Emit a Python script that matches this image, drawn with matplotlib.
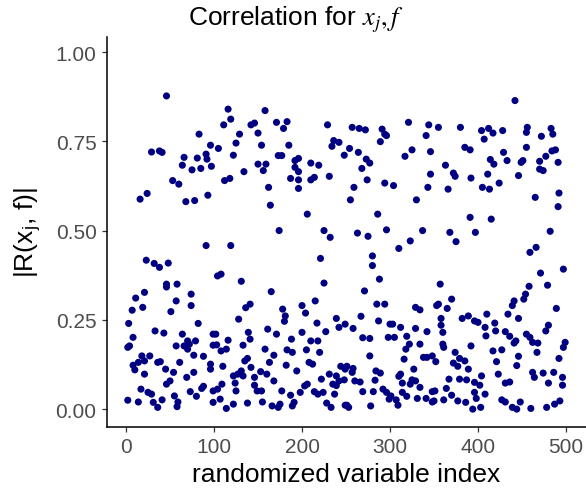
import numpy as np
import matplotlib
matplotlib.use('Agg')
import matplotlib.pyplot as plt

plt.rcParams['font.family'] = ['Liberation Sans', 'DejaVu Sans']
plt.rcParams['mathtext.fontset'] = 'stix'

# |R(x_j, f)| per randomized variable index, grouped by index range
idx_a = [46, 29, 38, 41, 16, 24, 23, 32, 38, 48, 46, 46, 21, 11, 19, 7, 3, 8, 33, 43,
         2, 4, 18, 27, 21, 8, 14, 10, 21, 36, 39, 46, 17, 25, 29, 2, 14, 31, 36, 41]
r_a = [0.877, 0.720, 0.723, 0.719, 0.588, 0.604, 0.417, 0.408, 0.397, 0.409, 0.350, 0.342,
       0.327, 0.311, 0.285, 0.277, 0.240, 0.201, 0.219, 0.213, 0.173, 0.177, 0.149, 0.149,
       0.135, 0.123, 0.131, 0.110, 0.098, 0.131, 0.133, 0.070, 0.056, 0.047, 0.042, 0.025,
       0.020, 0.019, 0.005, 0.026]

idx_b = [83, 96, 66, 64, 81, 91, 92, 75, 85, 97, 53, 60, 68, 78, 93, 91, 58, 74, 57, 74,
         51, 82, 64, 57, 70, 72, 79, 66, 70, 77, 88, 99, 99, 61, 45, 54, 96, 96, 77, 69,
         50, 88, 86, 73, 99, 55, 80, 59, 58, 99]
r_b = [0.770, 0.739, 0.705, 0.683, 0.703, 0.714, 0.700, 0.670, 0.674, 0.680, 0.640, 0.630,
       0.581, 0.584, 0.599, 0.458, 0.350, 0.322, 0.303, 0.290, 0.273, 0.240, 0.210, 0.177,
       0.191, 0.182, 0.191, 0.177, 0.168, 0.151, 0.148, 0.210, 0.179, 0.131, 0.112, 0.103,
       0.126, 0.112, 0.103, 0.089, 0.079, 0.064, 0.058, 0.049, 0.051, 0.037, 0.036, 0.020,
       0.007, 0.019]

idx_c = [116, 119, 111, 142, 146, 150, 129, 105, 125, 122, 150, 134, 112, 118, 119, 104,
         108, 131, 141, 136, 128, 102, 139, 116, 141, 103, 133, 108, 114, 138, 135, 110,
         142, 131, 127, 122, 133, 146, 124, 109, 146, 149, 125, 104, 107, 122, 114, 138]
r_c = [0.840, 0.812, 0.796, 0.796, 0.801, 0.773, 0.770, 0.730, 0.745, 0.711, 0.686, 0.665,
       0.640, 0.646, 0.458, 0.373, 0.378, 0.358, 0.294, 0.284, 0.252, 0.210, 0.215, 0.193,
       0.196, 0.180, 0.179, 0.163, 0.168, 0.142, 0.135, 0.120, 0.117, 0.107, 0.098, 0.093,
       0.093, 0.089, 0.073, 0.070, 0.067, 0.051, 0.051, 0.056, 0.028, 0.014, 0.002, 0.017]

idx_d = [158, 171, 183, 179, 154, 185, 173, 177, 159, 156, 192, 196, 192, 196, 187, 196,
         196, 162, 164, 174, 165, 178, 181, 180, 200, 161, 171, 188, 200, 158, 168, 183,
         189, 163, 182, 194, 153, 160, 168, 154, 177, 187, 198, 155, 166, 173, 175, 191, 189]
r_d = [0.836, 0.803, 0.805, 0.786, 0.739, 0.739, 0.710, 0.710, 0.686, 0.668, 0.696, 0.702,
       0.677, 0.665, 0.646, 0.642, 0.618, 0.621, 0.571, 0.500, 0.329, 0.280, 0.261, 0.246,
       0.290, 0.224, 0.210, 0.196, 0.215, 0.168, 0.151, 0.166, 0.159, 0.131, 0.123, 0.107,
       0.105, 0.098, 0.079, 0.051, 0.051, 0.039, 0.047, 0.020, 0.009, 0.005, 0.014, 0.019,
       0.009]

idx_e = [229, 236, 242, 234, 248, 210, 219, 210, 214, 231, 206, 225, 232, 221, 225, 215,
         204, 217, 239, 242, 249, 227, 210, 218, 205, 220, 208, 212, 244, 249, 239, 231,
         222, 242, 235, 248, 239, 206, 203, 214, 224, 218, 237, 228, 233, 249]
r_e = [0.796, 0.752, 0.747, 0.736, 0.711, 0.689, 0.683, 0.642, 0.649, 0.652, 0.546, 0.500,
       0.481, 0.422, 0.353, 0.303, 0.269, 0.241, 0.254, 0.229, 0.238, 0.217, 0.191, 0.191,
       0.166, 0.159, 0.131, 0.126, 0.120, 0.112, 0.093, 0.098, 0.084, 0.079, 0.070, 0.082,
       0.066, 0.070, 0.065, 0.049, 0.047, 0.042, 0.042, 0.017, 0.005, 0.011]

idx_f = [257, 265, 272, 291, 294, 289, 296, 254, 264, 273, 277, 268, 274, 259, 255, 294,
         286, 263, 275, 296, 280, 280, 288, 271, 285, 294, 267, 287, 300, 258, 269, 277,
         298, 277, 251, 258, 257, 284, 289, 260, 266, 283, 292, 296, 299, 269, 281, 251,
         253, 278]
r_f = [0.789, 0.786, 0.782, 0.784, 0.770, 0.749, 0.766, 0.730, 0.719, 0.700, 0.689, 0.674,
       0.642, 0.621, 0.586, 0.633, 0.546, 0.493, 0.484, 0.502, 0.429, 0.402, 0.364, 0.331,
       0.294, 0.294, 0.260, 0.247, 0.238, 0.226, 0.200, 0.198, 0.201, 0.149, 0.120, 0.114,
       0.103, 0.107, 0.101, 0.079, 0.076, 0.081, 0.056, 0.047, 0.028, 0.049, 0.049, 0.011,
       0.005, 0.009]

idx_g = [321, 344, 341, 325, 317, 346, 346, 343, 304, 330, 337, 323, 310, 329, 334, 303,
         312, 329, 342, 305, 319, 322, 334, 318, 316, 338, 342, 348, 327, 312, 310, 314,
         325, 323, 329, 334, 301, 307, 309, 314, 319, 331, 341, 348, 348]
r_g = [0.803, 0.796, 0.766, 0.726, 0.708, 0.721, 0.658, 0.621, 0.626, 0.586, 0.500, 0.471,
       0.450, 0.285, 0.278, 0.238, 0.229, 0.226, 0.217, 0.201, 0.204, 0.182, 0.182, 0.168,
       0.140, 0.145, 0.145, 0.149, 0.112, 0.098, 0.092, 0.073, 0.082, 0.070, 0.079, 0.061,
       0.037, 0.026, 0.011, 0.047, 0.036, 0.030, 0.030, 0.049, 0.020]

idx_h = [355, 380, 385, 391, 363, 372, 374, 392, 366, 391, 397, 368, 375, 357, 370, 365,
         353, 355, 358, 358, 360, 382, 389, 396, 360, 361, 392, 352, 374, 379, 385, 372,
         377, 389, 367, 379, 387, 396, 364, 351, 370, 396, 398, 350, 361, 377, 386, 394]
r_h = [0.789, 0.789, 0.733, 0.726, 0.683, 0.661, 0.652, 0.647, 0.616, 0.537, 0.495, 0.495,
       0.469, 0.350, 0.308, 0.282, 0.290, 0.294, 0.254, 0.235, 0.215, 0.254, 0.261, 0.247,
       0.182, 0.173, 0.177, 0.133, 0.159, 0.142, 0.135, 0.129, 0.120, 0.112, 0.084, 0.084,
       0.082, 0.075, 0.058, 0.051, 0.039, 0.047, 0.030, 0.023, 0.026, 0.023, 0.019, 0.000]

idx_i = [442, 404, 412, 417, 407, 428, 429, 433, 414, 418, 449, 411, 446, 405, 413, 424,
         415, 410, 400, 408, 409, 419, 420, 434, 441, 439, 446, 431, 436, 441, 443, 417,
         427, 421, 446, 444, 423, 404, 402, 431, 436, 408, 403, 427, 431, 439, 444, 448]
r_i = [0.864, 0.780, 0.786, 0.773, 0.756, 0.780, 0.719, 0.696, 0.699, 0.686, 0.691, 0.658,
       0.654, 0.621, 0.616, 0.633, 0.532, 0.266, 0.243, 0.229, 0.205, 0.241, 0.219, 0.266,
       0.303, 0.290, 0.254, 0.217, 0.204, 0.185, 0.191, 0.163, 0.166, 0.133, 0.148, 0.122,
       0.098, 0.093, 0.067, 0.073, 0.076, 0.042, 0.005, 0.026, 0.020, 0.005, 0.000, 0.020]

idx_j = [456, 455, 483, 485, 472, 455, 451, 470, 477, 484, 488, 491, 470, 474, 465, 492,
         491, 482, 459, 466, 471, 497, 479, 458, 454, 452, 489, 480, 477, 455, 459, 462,
         468, 467, 499, 497, 492, 462, 464, 474, 486, 480, 496, 496, 460, 478, 487, 493]
r_j = [0.789, 0.775, 0.786, 0.770, 0.764, 0.733, 0.696, 0.694, 0.708, 0.723, 0.726, 0.691,
       0.672, 0.668, 0.593, 0.605, 0.567, 0.498, 0.439, 0.453, 0.381, 0.392, 0.347, 0.344,
       0.322, 0.308, 0.282, 0.235, 0.219, 0.210, 0.201, 0.187, 0.185, 0.159, 0.187, 0.173,
       0.142, 0.103, 0.089, 0.101, 0.103, 0.073, 0.089, 0.067, 0.002, 0.005, 0.014, 0.023]

var_index = np.concatenate([idx_a, idx_b, idx_c, idx_d, idx_e, idx_f, idx_g, idx_h, idx_i, idx_j])
abs_r = np.concatenate([r_a, r_b, r_c, r_d, r_e, r_f, r_g, r_h, r_i, r_j])

fig = plt.figure(figsize=(5.86, 4.89), dpi=100)
ax = fig.add_axes([107 / 586, 1 - 428 / 489, (586 - 107) / 586, (428 - 38) / 489])

ax.scatter(var_index, abs_r, s=26, color='navy', edgecolors='none', zorder=3)

ax.set_xlim(-21.6, 522.7)
ax.set_ylim(-0.05, 1.042)
ax.set_xticks([0, 100, 200, 300, 400, 500])
ax.set_yticks([0, 0.25, 0.5, 0.75, 1.0])
ax.set_yticklabels(['0.00', '0.25', '0.50', '0.75', '1.00'])

for s in ['top', 'right']:
    ax.spines[s].set_visible(False)
for s in ['left', 'bottom']:
    ax.spines[s].set_linewidth(1.1)
    ax.spines[s].set_color('black')

ax.tick_params(direction='out', length=3.5, width=0.9, color='#333333',
               labelcolor='#4d4d4d', labelsize=15, pad=4)

ax.set_xlabel('randomized variable index', fontsize=19, labelpad=4)
ax.set_ylabel('|R(x$_\\mathregular{j}$, f)|', fontsize=19, labelpad=8)

fig.text(296 / 586, 1 - 20 / 489, 'Correlation for $x_j, f$', fontsize=19,
         ha='center', va='center')

fig.savefig('out.png', dpi=100)
